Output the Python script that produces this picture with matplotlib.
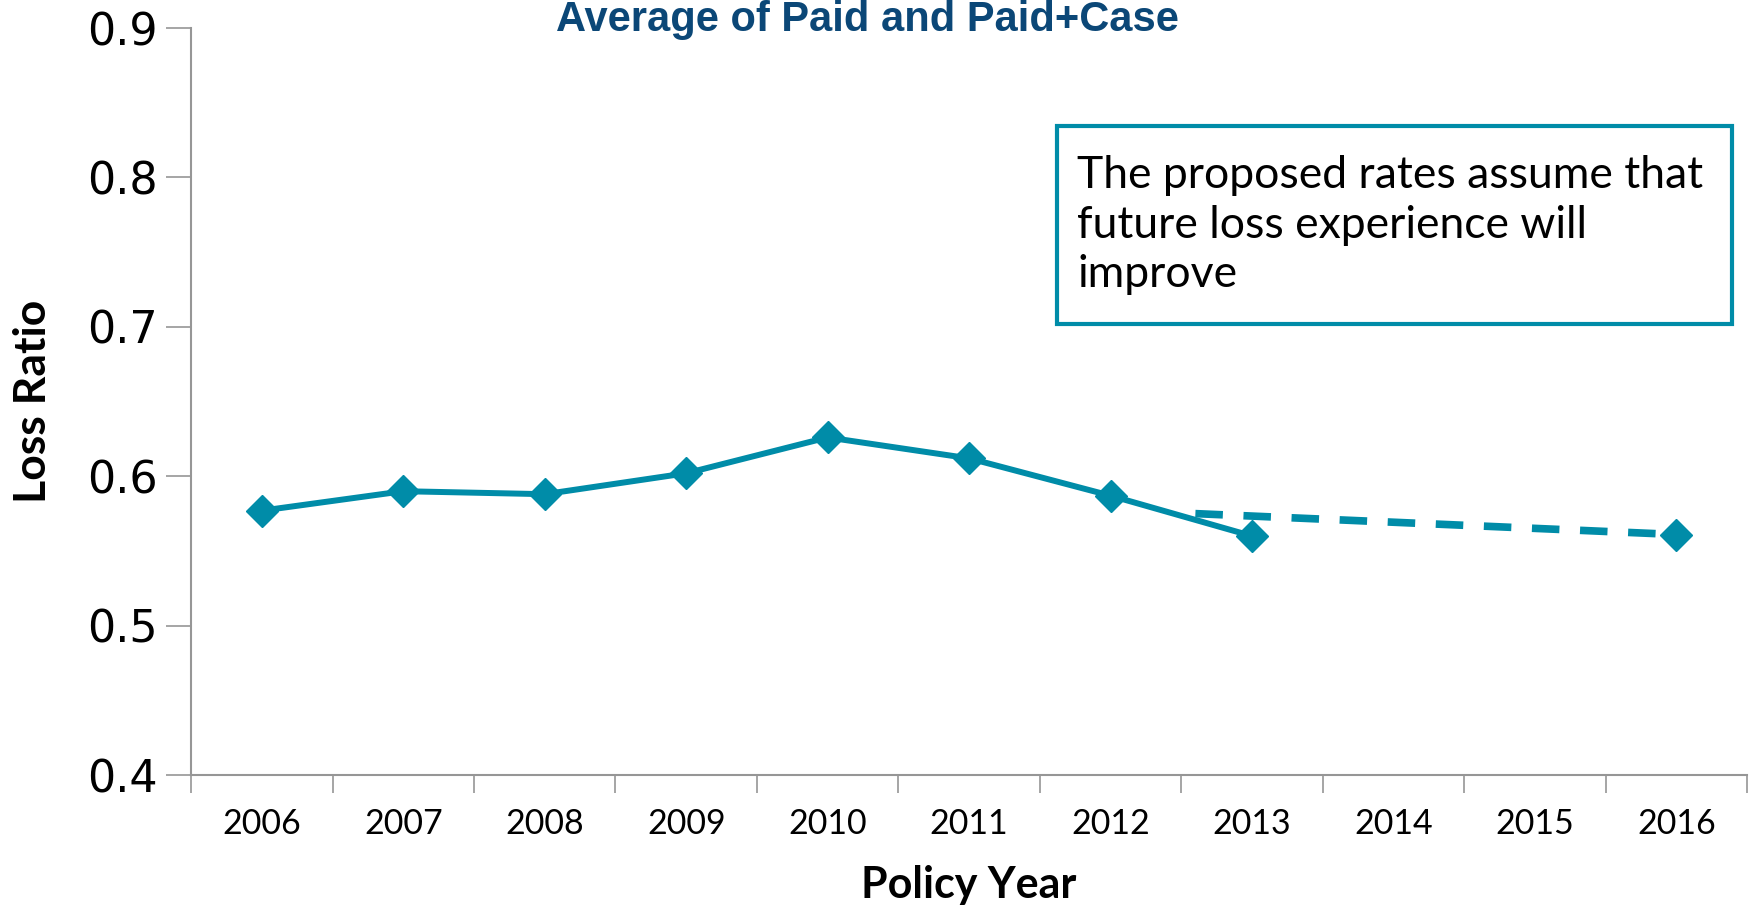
import matplotlib
matplotlib.use("Agg")
import matplotlib.pyplot as plt
from matplotlib.patches import Rectangle

# data
years = ["2006", "2007", "2008", "2009", "2010", "2011",
         "2012", "2013", "2014", "2015", "2016"]
actual_loss_ratio = [0.577, 0.590, 0.588, 0.602, 0.626, 0.612, 0.587, 0.560]
trend_pos = [6.6, 10]          # dashed projection: starts between 2012 and 2013, ends at 2016
trend_loss_ratio = [0.575, 0.561]
end_marker_pos = [10]
end_marker_value = [0.561]

teal = "#008CA8"
axis_grey = "#969696"
title_blue = "#0B4777"
body_font = ["Lato", "DejaVu Sans"]

W, H = 1754, 907


def main():
    fig = plt.figure(figsize=(W / 100, H / 100), dpi=100)
    ax = fig.add_axes([0.109, 0.1455, 0.887, 0.8235])

    # projected trend (dashed)
    ax.plot(trend_pos, trend_loss_ratio, color=teal, linewidth=5.5,
            dashes=(3.6, 2.7), solid_capstyle="butt", zorder=2)
    ax.plot(end_marker_pos, end_marker_value, linestyle="none", marker="D",
            markersize=16, color=teal, zorder=3)

    # actual experience
    ax.plot(range(len(actual_loss_ratio)), actual_loss_ratio, color=teal,
            linewidth=4.3, marker="D", markersize=16, zorder=4)

    ax.set_xlim(-0.5, len(years) - 0.5)
    ax.set_ylim(0.4, 0.9)
    ax.set_yticks([0.4, 0.5, 0.6, 0.7, 0.8, 0.9])
    ax.set_yticklabels(["0.4", "0.5", "0.6", "0.7", "0.8", "0.9"],
                       fontsize=32, family="DejaVu Sans")

    # category ticks between labels, labels centred
    ax.set_xticks([i - 0.5 for i in range(len(years) + 1)])
    ax.set_xticklabels([])
    ax.set_xticks(range(len(years)), minor=True)
    ax.set_xticklabels(years, minor=True, fontsize=24.5, family=body_font)
    ax.tick_params(axis="x", which="major", length=13, width=1.2,
                   color=axis_grey, direction="out")
    ax.tick_params(axis="x", which="minor", length=0, pad=24)
    ax.tick_params(axis="y", length=18, width=1.2, color=axis_grey,
                   direction="out", pad=6)

    for side in ["top", "right"]:
        ax.spines[side].set_visible(False)
    for side in ["left", "bottom"]:
        ax.spines[side].set_color(axis_grey)
        ax.spines[side].set_linewidth(1.5)

    ax.set_xlabel("Policy Year", fontsize=31, fontweight="bold",
                  family=body_font, labelpad=18)
    ax.set_ylabel("Loss Ratio", fontsize=32, fontweight="bold",
                  family=body_font)
    ax.yaxis.set_label_coords(-0.089, 0.5)

    # title hugs the top edge
    fig.text(867 / W, 1 - 31 / H, "Average of Paid and Paid+Case",
             ha="center", va="baseline", fontsize=30, fontweight="bold",
             color=title_blue, family=["Liberation Sans", "DejaVu Sans"])

    # note box
    box = Rectangle((1057 / W, 1 - 324 / H), (1732 - 1057) / W, (324 - 126) / H,
                    transform=fig.transFigure, facecolor="white",
                    edgecolor=teal, linewidth=3, zorder=5)
    fig.patches.append(box)
    fig.text(1077 / W, 1 - 225 / H,
             "The proposed rates assume that\nfuture loss experience will\nimprove",
             ha="left", va="center", fontsize=32, family=body_font,
             linespacing=1.25, zorder=6)

    fig.savefig("out.png", dpi=100)


if __name__ == "__main__":
    main()
